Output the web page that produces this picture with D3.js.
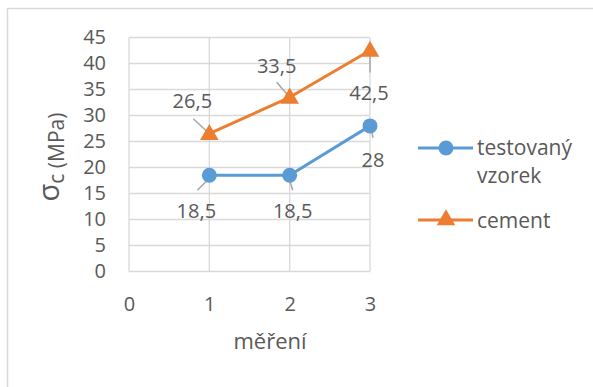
<!DOCTYPE html>
<html>
<head>
<meta charset="utf-8">
<script src="https://cdn.jsdelivr.net/npm/d3@7"></script>
<style>
  html, body { margin: 0; padding: 0; background: #fff; }
  svg { display: block; }
  text { font-family: "Open Sans", Lato, sans-serif; fill: #595959; }
</style>
</head>
<body>
<svg id="chart" width="593" height="387"></svg>
<script>
// measurement index (x axis) and compressive strength σc in MPa
const measurements = [1, 2, 3];
const testedSample = [18.5, 18.5, 28];
const cement = [26.5, 33.5, 42.5];
const seriesNames = ["testovaný vzorek", "cement"];
const xTicks = [0, 1, 2, 3];
const yTicks = [0, 5, 10, 15, 20, 25, 30, 35, 40, 45];

const W = 593, H = 387;
const FONT = "'Open Sans', Lato, sans-serif";
const svg = d3.select("#chart");
svg.append("rect").attr("width", W).attr("height", H).attr("fill", "#fff");

// chart frame (top and left edges)
svg.append("path")
  .attr("d", `M7.5,${H} V8.5 H${W}`)
  .attr("fill", "none").attr("stroke", "#d9d9d9").attr("stroke-width", 1.5);

const x = d3.scaleLinear().domain([0, 3]).range([129, 370]);
const y = d3.scaleLinear().domain([0, 45]).range([271.5, 37.5]);

const grid = svg.append("g").attr("stroke", "#d9d9d9").attr("stroke-width", 1.3);
grid.selectAll("line.h").data(yTicks).join("line")
  .attr("x1", x(0)).attr("x2", x(3))
  .attr("y1", d => y(d)).attr("y2", d => y(d));
grid.selectAll("line.v").data(xTicks).join("line")
  .attr("y1", y(0)).attr("y2", y(45))
  .attr("x1", d => x(d)).attr("x2", d => x(d));

// axes: labels only, lines come from the grid
const yAxis = svg.append("g").attr("transform", `translate(${x(0)},0)`)
  .call(d3.axisLeft(y).tickValues(yTicks).tickFormat(d3.format("d")).tickSize(0).tickPadding(23));
const xAxis = svg.append("g").attr("transform", `translate(0,${y(0)})`)
  .call(d3.axisBottom(x).tickValues(xTicks).tickFormat(d3.format("d")).tickSize(0).tickPadding(25));
[yAxis, xAxis].forEach(a => {
  a.select(".domain").remove();
  a.selectAll("text").attr("font-size", 20).attr("font-family", FONT).attr("fill", "#595959");
});

// axis titles
svg.append("text").attr("x", 270).attr("y", 349).attr("text-anchor", "middle")
  .attr("font-size", 22).text("měření");
const yt = svg.append("text").attr("text-anchor", "middle")
  .attr("transform", "translate(64,157) rotate(-90)").attr("font-size", 21);
yt.append("tspan").attr("font-size", 29).attr("dy", -5).text("σ");
yt.append("tspan").attr("dy", 5).text("c (MPa)");

const colors = ["#5b9bd5", "#ed7d31"];
const data = [testedSample, cement];
const line = d3.line().x((d, i) => x(measurements[i])).y(d => y(d));

data.forEach((vals, s) => {
  svg.append("path").datum(vals).attr("d", line)
    .attr("fill", "none").attr("stroke", colors[s]).attr("stroke-width", 3)
    .attr("stroke-linejoin", "round").attr("stroke-linecap", "round");
});

// data labels: offsets from the point, plus leader line ends
const labelOffsets = [
  [[-13, 35], [3, 35], [3, 34]],
  [[-17, -33], [-13, -32], [-1, 42]]
];
const leaders = [
  [[-2, 5, -12, 15], [0, 5, 3, 15], [1, 1, 3, 12]],
  [[0, 0, -16, -15], [0, 0, -13, -15], [0, 3, 0, 22]]
];

data.forEach((vals, s) => {
  const g = svg.append("g");
  vals.forEach((v, i) => {
    const px = x(measurements[i]), py = y(v);
    const L = leaders[s][i];
    g.append("line").attr("x1", px + L[0]).attr("y1", py + L[1])
      .attr("x2", px + L[2]).attr("y2", py + L[3])
      .attr("stroke", "#a6a6a6").attr("stroke-width", 1.5);
  });
});

const tri = d3.symbol().type(d3.symbolTriangle).size(150);
data.forEach((vals, s) => {
  vals.forEach((v, i) => {
    const px = x(measurements[i]), py = y(v);
    if (s === 0) {
      svg.append("circle").attr("cx", px).attr("cy", py).attr("r", 7.5).attr("fill", colors[s]);
    } else {
      svg.append("path").attr("d", tri).attr("transform", `translate(${px},${py + 1})`).attr("fill", colors[s]);
    }
  });
});

data.forEach((vals, s) => {
  vals.forEach((v, i) => {
    const px = x(measurements[i]), py = y(v);
    const o = labelOffsets[s][i];
    svg.append("text").attr("x", px + o[0]).attr("y", py + o[1])
      .attr("text-anchor", "middle").attr("dominant-baseline", "central")
      .attr("font-size", 20).text(String(v).replace(".", ","));
  });
});

// legend
const legendY = [148, 220];
const legend = svg.append("g");
seriesNames.forEach((name, s) => {
  const ly = legendY[s];
  legend.append("line").attr("x1", 418).attr("x2", 473).attr("y1", ly).attr("y2", ly)
    .attr("stroke", colors[s]).attr("stroke-width", 3);
  if (s === 0) {
    legend.append("circle").attr("cx", 446).attr("cy", ly).attr("r", 7.5).attr("fill", colors[s]);
  } else {
    legend.append("path").attr("d", tri).attr("transform", `translate(446,${ly})`).attr("fill", colors[s]);
  }
});
const lt0 = legend.append("text").attr("font-size", 21);
const words = seriesNames[0].split(" ");
lt0.append("tspan").attr("x", 477).attr("y", 155).text(words[0]);
lt0.append("tspan").attr("x", 477).attr("y", 183).text(words[1]);
legend.append("text").attr("font-size", 21).attr("x", 477).attr("y", 228).text(seriesNames[1]);
</script>
</body>
</html>
